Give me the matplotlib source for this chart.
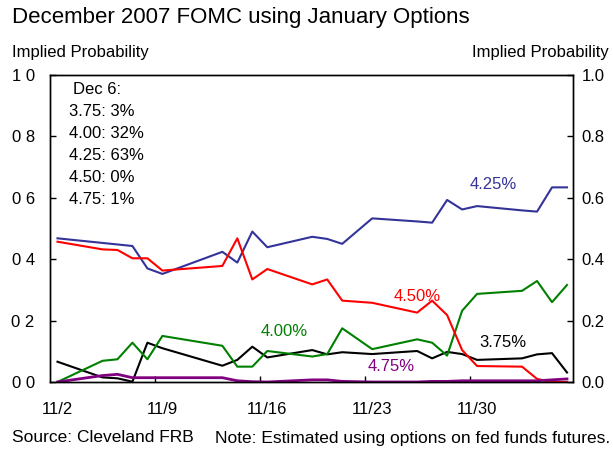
import matplotlib
matplotlib.use("Agg")
import matplotlib.pyplot as plt

plt.rcParams['font.family'] = ['Liberation Sans', 'DejaVu Sans']

# trading days, counted from 11/2
days = [0, 3, 4, 5, 6, 7, 11, 12, 13, 14, 17, 18, 19, 21,
        24, 25, 26, 27, 28, 31, 32, 33, 34]

p375 = [0.066, 0.015, 0.012, 0.001, 0.128, 0.110, 0.053, 0.072, 0.115, 0.080,
        0.104, 0.090, 0.097, 0.091, 0.101, 0.077, 0.098, 0.091, 0.072, 0.077,
        0.090, 0.094, 0.031]
p400 = [0.000, 0.069, 0.074, 0.128, 0.074, 0.150, 0.118, 0.050, 0.050, 0.101,
        0.083, 0.091, 0.175, 0.107, 0.139, 0.128, 0.086, 0.232, 0.287, 0.297,
        0.329, 0.260, 0.316]
p425 = [0.468, 0.453, 0.448, 0.443, 0.370, 0.352, 0.424, 0.389, 0.490, 0.439,
        0.473, 0.466, 0.450, 0.533, 0.523, 0.519, 0.593, 0.562, 0.573, 0.559,
        0.555, 0.634, 0.634]
p450 = [0.457, 0.432, 0.430, 0.403, 0.403, 0.363, 0.378, 0.468, 0.334, 0.368,
        0.318, 0.334, 0.265, 0.258, 0.226, 0.265, 0.218, 0.104, 0.052, 0.050,
        0.010, 0.000, 0.000]
p475 = [0.000, 0.021, 0.025, 0.014, 0.014, 0.014, 0.014, 0.004, 0.001, 0.000,
        0.007, 0.007, 0.002, 0.000, 0.000, 0.002, 0.002, 0.004, 0.004, 0.004,
        0.004, 0.007, 0.010]

week_days = [0, 7, 14, 21, 28]
week_labels = ['11/2', '11/9', '11/16', '11/23', '11/30']
y_ticks = [0.0, 0.2, 0.4, 0.6, 0.8, 1.0]
left_labels = ['0 0', '0 2', '0 4', '0 6', '0 8', '1 0']
right_labels = ['0.0', '0.2', '0.4', '0.6', '0.8', '1.0']

box_lines = ['Dec 6:', '3.75: 3%', '4.00: 32%', '4.25: 63%', '4.50: 0%', '4.75: 1%']

fs = 12

fig = plt.figure(figsize=(6.13, 4.51), dpi=100)
ax = fig.add_axes([50 / 613, 69 / 451, 523 / 613, 307 / 451])

ax.plot(days, p375, color='black', lw=1.5)
ax.plot(days, p400, color='#008000', lw=1.5)
ax.plot(days, p425, color='#333399', lw=1.5)
ax.plot(days, p450, color='#ff0000', lw=1.5)
ax.plot(days, p475, color='#800080', lw=2)

ax.set_xlim(-0.5, 34.4)
ax.set_ylim(0, 1.0)

# tick marks between weeks, labels on the dates
ax.set_xticks([d - 0.5 for d in week_days[1:]])
ax.set_xticklabels([])
ax.tick_params(axis='x', direction='in', length=4, width=1)
for d, lab in zip(week_days, week_labels):
    ax.text(d, -0.09, lab, ha='center', va='center', fontsize=fs,
            transform=ax.get_xaxis_transform())

ax.set_yticks(y_ticks)
ax.set_yticklabels(left_labels, fontsize=fs)
ax.tick_params(axis='y', direction='in', length=4, width=1, pad=11)

ax2 = ax.twinx()
ax2.set_ylim(0, 1.0)
ax2.set_yticks(y_ticks)
ax2.set_yticklabels(right_labels, fontsize=fs)
ax2.tick_params(axis='y', direction='in', length=4, width=1, pad=6)

for a in (ax, ax2):
    for s in a.spines.values():
        s.set_linewidth(1)

# series labels
ax.text(29.1, 0.642, '4.25%', color='#333399', fontsize=fs, ha='center', va='center')
ax.text(24.0, 0.280, '4.50%', color='#ff0000', fontsize=fs, ha='center', va='center')
ax.text(15.1, 0.166, '4.00%', color='#008000', fontsize=fs, ha='center', va='center')
ax.text(29.7, 0.130, '3.75%', color='black', fontsize=fs, ha='center', va='center')
ax.text(22.3, 0.049, '4.75%', color='#800080', fontsize=fs, ha='center', va='center')

# note box
for i, line in enumerate(box_lines):
    x = 73 if i == 0 else 69
    fig.text(x / 613, 1 - (90 + 22 * i) / 451, line, fontsize=fs, va='center')

fig.text(12 / 613, 1 - 18 / 451, 'December 2007 FOMC using January Options',
         fontsize=16, va='center')
fig.text(12 / 613, 1 - 52 / 451, 'Implied Probability', fontsize=fs, va='center')
fig.text(609 / 613, 1 - 52 / 451, 'Implied Probability', fontsize=fs,
         va='center', ha='right')
fig.text(12 / 613, 1 - 438 / 451, 'Source: Cleveland FRB', fontsize=12.5, va='center')
fig.text(610 / 613, 1 - 438 / 451,
         'Note: Estimated using options on fed funds futures.',
         fontsize=12.5, va='center', ha='right')

fig.savefig('out.png', dpi=100)
